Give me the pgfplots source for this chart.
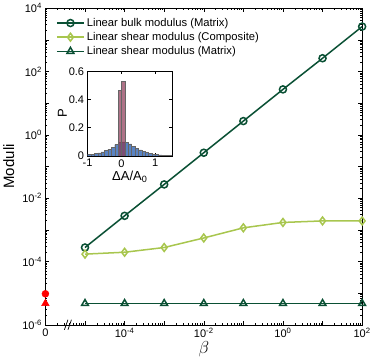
\documentclass[border=0pt]{standalone}
\usepackage{fontspec}
\setmainfont{Liberation Sans}
\usepackage{pgfplots}
\pgfplotsset{compat=1.18}

\definecolor{dkgreen}{RGB}{10,80,52}
\definecolor{ltgreen}{RGB}{168,198,78}
\definecolor{histblue}{RGB}{60,110,185}
\definecolor{histred}{RGB}{140,55,85}

\newcommand{\tp}[1]{10\textsuperscript{#1}}

\begin{document}
\begin{tikzpicture}
\begin{axis}[
  name=main,
  scale only axis,
  width=315bp, height=315bp,
  xmode=log, ymode=log,
  xmin=1e-6, xmax=1e2,
  ymin=1e-6, ymax=1e4,
  xtick={1e-6,1e-5,1e-4,1e-3,1e-2,1e-1,1,1e1,1e2},
  xticklabels={0,,\tp{-4},,\tp{-2},,\tp{0},,\tp{2}},
  ytick={1e-6,1e-5,1e-4,1e-3,1e-2,1e-1,1,1e1,1e2,1e3,1e4},
  yticklabels={\tp{-6},,\tp{-4},,\tp{-2},,\tp{0},,\tp{2},,\tp{4}},
  tick label style={font=\fontsize{11}{12}\selectfont},
  major tick length=4bp, minor tick length=2bp,
  tick style={black, line width=0.4pt},
  xlabel={$\beta$},
  ylabel={Moduli},
  label style={font=\fontsize{15}{16}\selectfont},
  xlabel style={font=\fontsize{17}{18}\selectfont, yshift=3bp},
  ylabel style={yshift=1bp},
  clip=false,
  legend cell align=left,
  legend style={at={(0.03,0.978)}, anchor=north west, draw=none, fill=none,
    inner sep=1bp, row sep=0.5bp, font=\fontsize{11.2}{13}\selectfont},
  legend image code/.code={\draw[mark repeat=2,mark phase=2]
    plot coordinates {(0bp,0bp)(13.5bp,0bp)(27bp,0bp)};},
]
% bulk modulus of the matrix
\addplot[dkgreen, line width=1.5bp, mark=o, mark size=3.5bp,
  mark options={solid, fill=white, line width=1.5bp}] coordinates {
  (1e-5,2.75e-4) (1e-4,2.75e-3) (1e-3,2.7e-2) (1e-2,0.27)
  (1e-1,2.7) (1,27) (1e1,260) (1e2,2600)
};
\addlegendentry{Linear bulk modulus (Matrix)}
% shear modulus of the composite
\addplot[ltgreen, line width=1.5bp, mark=diamond, mark size=3.9bp,
  mark options={solid, fill=white, line width=1.5bp}] coordinates {
  (1e-5,1.7e-4) (1e-4,1.95e-4) (1e-3,2.75e-4) (1e-2,5.5e-4)
  (1e-1,1.15e-3) (1,1.7e-3) (1e1,1.9e-3) (1e2,1.9e-3)
};
\addlegendentry{Linear shear modulus (Composite)}
% shear modulus of the matrix
\addplot[dkgreen, line width=1.5bp, mark=triangle, mark size=3.9bp,
  mark options={solid, fill=white, line width=1.5bp}] coordinates {
  (1e-5,4.7e-6) (1e-4,4.7e-6) (1e-3,4.7e-6) (1e-2,4.7e-6)
  (1e-1,4.7e-6) (1,4.7e-6) (1e1,4.7e-6) (1e2,4.7e-6)
};
\addlegendentry{Linear shear modulus (Matrix)}
% beta = 0 values
\addplot[forget plot, only marks, red, mark=*, mark size=3.5bp] coordinates {(1e-6,9.5e-6)};
\addplot[forget plot, only marks, red, mark=triangle*, mark size=4.4bp] coordinates {(1e-6,4.7e-6)};
% axis break
\draw[line width=0.7bp] (axis cs:3.6e-6,1e-6) ++(-3bp,-5bp) -- ++(3.5bp,10bp);
\draw[line width=0.7bp] (axis cs:3.6e-6,1e-6) ++(0.5bp,-5bp) -- ++(3.5bp,10bp);
\end{axis}

% inset histogram
\begin{axis}[
  at={(main.south west)}, anchor=south west,
  xshift=42bp, yshift=168bp,
  scale only axis,
  width=84bp, height=84bp,
  xmin=-1, xmax=1.5, ymin=0, ymax=0.6,
  xtick={-1,0,1}, ytick={0,0.2,0.4,0.6},
  tick label style={font=\fontsize{11}{12}\selectfont,
    /pgf/number format/assume math mode=true},
  major tick length=3bp,
  tick style={black, line width=0.4pt},
  xlabel={ΔA/A\textsubscript{0}},
  ylabel={P},
  label style={font=\fontsize{13}{14}\selectfont},
  xlabel style={yshift=3bp},
  ylabel style={yshift=-5bp},
  axis background/.style={fill=white},
]
\addplot[ybar interval, fill=histblue, fill opacity=0.85, draw=black!60, line width=0.3bp] coordinates {
  (-1.0,0.010) (-0.9,0.013) (-0.8,0.016) (-0.7,0.021) (-0.6,0.028)
  (-0.5,0.037) (-0.4,0.048) (-0.3,0.062) (-0.2,0.080) (-0.1,0.097)
  (0.0,0.100) (0.1,0.098) (0.2,0.085) (0.3,0.068) (0.4,0.055)
  (0.5,0.043) (0.6,0.032) (0.7,0.024) (0.8,0.018) (0.9,0.012)
  (1.0,0.009) (1.1,0.007) (1.2,0.005) (1.3,0.004) (1.4,0.003)
  (1.5,0.003)
};
\addplot[ybar interval, fill=histred, fill opacity=0.7, draw=black!60, line width=0.3bp] coordinates {
  (-0.1,0.465) (0.0,0.53) (0.1,0.53)
};
\end{axis}
\end{tikzpicture}
\end{document}
